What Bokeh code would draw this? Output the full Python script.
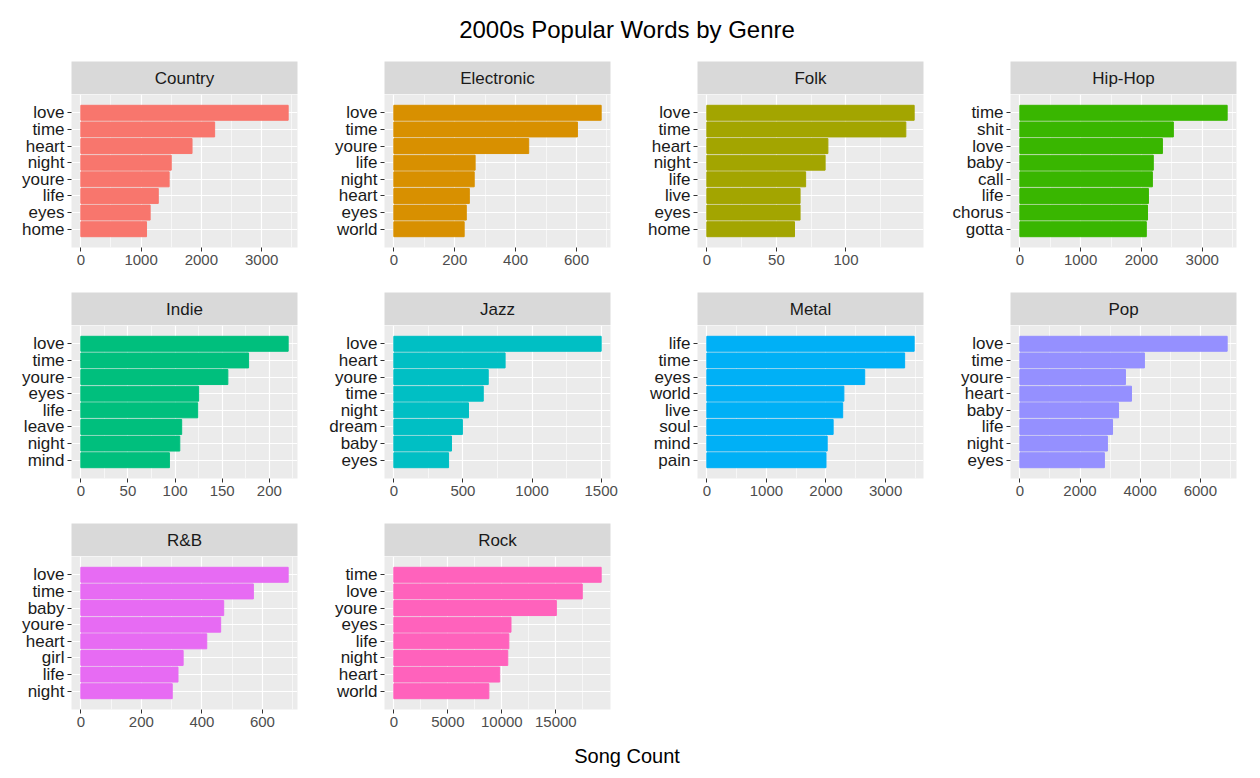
from bokeh.plotting import figure
from bokeh.models import FactorRange, Range1d, FixedTicker, Div, Spacer
from bokeh.layouts import column, row
from bokeh.core.properties import value
from bokeh.embed import file_html
from bokeh.resources import INLINE

genres = ["Country", "Electronic", "Folk", "Hip-Hop", "Indie", "Jazz", "Metal", "Pop", "R&B", "Rock"]
words = {
    "Country": ["love", "time", "heart", "night", "youre", "life", "eyes", "home"],
    "Electronic": ["love", "time", "youre", "life", "night", "heart", "eyes", "world"],
    "Folk": ["love", "time", "heart", "night", "life", "live", "eyes", "home"],
    "Hip-Hop": ["time", "shit", "love", "baby", "call", "life", "chorus", "gotta"],
    "Indie": ["love", "time", "youre", "eyes", "life", "leave", "night", "mind"],
    "Jazz": ["love", "heart", "youre", "time", "night", "dream", "baby", "eyes"],
    "Metal": ["life", "time", "eyes", "world", "live", "soul", "mind", "pain"],
    "Pop": ["love", "time", "youre", "heart", "baby", "life", "night", "eyes"],
    "R&B": ["love", "time", "baby", "youre", "heart", "girl", "life", "night"],
    "Rock": ["time", "love", "youre", "eyes", "life", "night", "heart", "world"],
}
counts = {
    "Country": [3440, 2220, 1845, 1500, 1465, 1285, 1150, 1090],
    "Electronic": [681, 603, 443, 267, 264, 248, 238, 231],
    "Folk": [149, 143, 87, 85, 71, 67, 67, 63],
    "Hip-Hop": [3410, 2525, 2345, 2195, 2180, 2115, 2100, 2080],
    "Indie": [220, 178, 156, 125, 124, 107, 105, 94],
    "Jazz": [1500, 805, 683, 647, 540, 496, 417, 396],
    "Metal": [3480, 3320, 2650, 2300, 2280, 2120, 2020, 2000],
    "Pop": [6890, 4140, 3510, 3710, 3280, 3080, 2910, 2810],
    "R&B": [685, 570, 472, 462, 416, 338, 321, 302],
    "Rock": [19200, 17450, 15050, 10850, 10650, 10550, 9800, 8800],
}
xticks = {
    "Country": [0, 1000, 2000, 3000],
    "Electronic": [0, 200, 400, 600],
    "Folk": [0, 50, 100],
    "Hip-Hop": [0, 1000, 2000, 3000],
    "Indie": [0, 50, 100, 150, 200],
    "Jazz": [0, 500, 1000, 1500],
    "Metal": [0, 1000, 2000, 3000],
    "Pop": [0, 2000, 4000, 6000],
    "R&B": [0, 200, 400, 600],
    "Rock": [0, 5000, 10000, 15000],
}
colors = ["#F8766D", "#D89000", "#A3A500", "#39B600", "#00BF7D",
          "#00BFC4", "#00B0F6", "#9590FF", "#E76BF3", "#FF62BC"]

FW, ML, MR = 226, 71, 16


def strip(name):
    s = figure(frame_width=FW, frame_height=33, min_border_left=ML, min_border_right=MR,
               min_border_top=0, min_border_bottom=0, x_range=Range1d(0, 1), y_range=Range1d(0, 1),
               toolbar_location=None, output_backend="svg", background_fill_color="#d9d9d9",
               outline_line_color=None)
    s.axis.visible = False
    s.grid.visible = False
    s.text(x=[0.5], y=[0.5], text=[name], text_align="center", text_baseline="middle",
           text_font_size="13pt" if False else "17px", text_color="#1a1a1a",
           text_font=value("Liberation Sans"))
    return s


def panel(i, bottom):
    g = genres[i]
    w = words[g]
    c = counts[g]
    mx = max(c)
    p = figure(frame_width=FW, frame_height=153, min_border_left=ML, min_border_right=MR,
               min_border_top=0, min_border_bottom=bottom,
               y_range=FactorRange(factors=list(reversed(w)), range_padding=0.6,
                                   range_padding_units="absolute"),
               x_range=Range1d(-0.045 * mx, mx * 1.045),
               toolbar_location=None, output_backend="svg",
               background_fill_color="#ebebeb", outline_line_color=None)
    p.hbar(y=w, right=c, left=0, height=0.9, color=colors[i])
    p.xaxis.ticker = FixedTicker(ticks=xticks[g],
                                 minor_ticks=[(a + b) / 2 for a, b in zip(xticks[g][:-1], xticks[g][1:])]
                                 + [xticks[g][-1] + (xticks[g][1] - xticks[g][0]) / 2])
    p.xaxis.major_label_overrides = {t: str(t) for t in xticks[g]}
    for ax in (p.xaxis, p.yaxis):
        ax.axis_line_color = None
        ax.major_tick_line_color = "#333333"
        ax.major_tick_out = 4
        ax.major_tick_in = 0
        ax.minor_tick_line_color = None
        ax.major_label_text_color = "#4d4d4d"
        ax.major_label_text_font = "Liberation Sans"
    p.xaxis.major_label_text_font_size = "15px"
    p.yaxis.major_label_text_font_size = "17px"
    p.yaxis.major_label_text_color = "#1a1a1a"
    p.yaxis.major_label_standoff = 3
    p.xaxis.major_label_standoff = 3
    p.xgrid.grid_line_color = "white"
    p.xgrid.grid_line_width = 1.2
    p.xgrid.minor_grid_line_color = "white"
    p.xgrid.minor_grid_line_width = 0.6
    p.ygrid.grid_line_color = "white"
    p.ygrid.grid_line_width = 1.2
    return p


rows = []
for r in range(3):
    cells = []
    for cidx in range(4):
        i = r * 4 + cidx
        if i < len(genres):
            cells.append(column(strip(genres[i]), panel(i, 45 if r < 2 else 28)))
        else:
            cells.append(Spacer(width=FW + ML + MR, height=10))
    rows.append(row(*cells))

title = Div(text="2000s Popular Words by Genre", width=1244, height=51,
            styles={"font-size": "24px", "text-align": "center", "width": "1244px",
                    "font-family": "Liberation Sans", "color": "black", "padding-top": "8px"})
xlab = Div(text="Song Count", width=1244, height=30,
           styles={"font-size": "20px", "text-align": "center", "width": "1244px",
                   "font-family": "Liberation Sans", "color": "black"})

layout = column(title, *rows, xlab)
open("out.html", "w").write(file_html(layout, INLINE))
